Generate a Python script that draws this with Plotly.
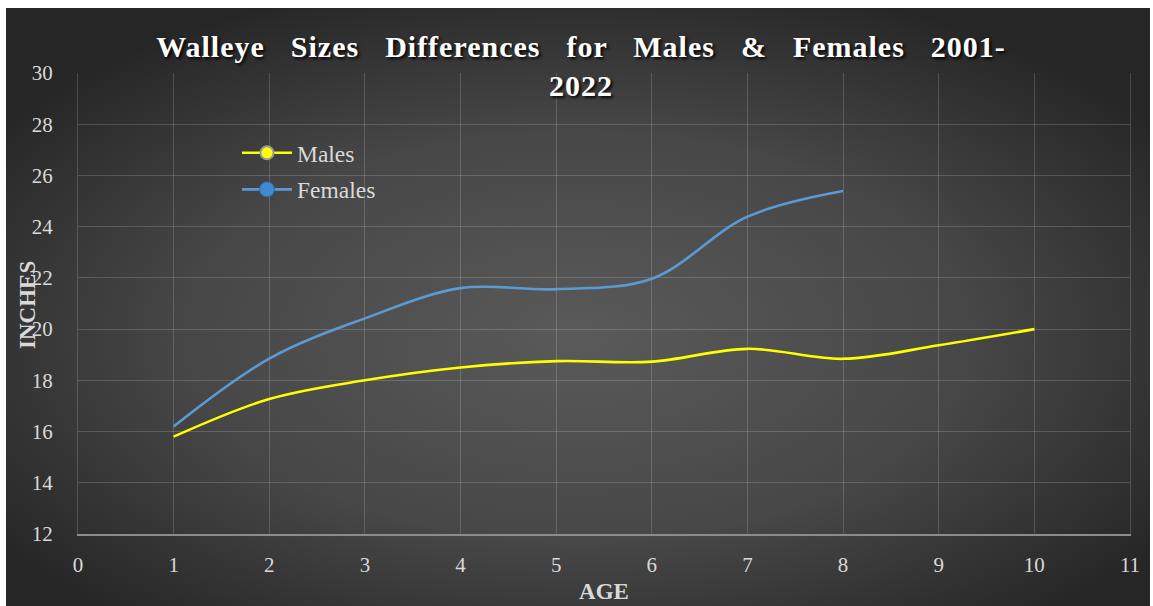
import base64
import plotly.graph_objects as go

# ---- data ----
ages_males = [1, 2, 3, 4, 5, 6, 7, 8, 9, 10]
males = [15.8, 17.27, 18.0, 18.5, 18.75, 18.73, 19.23, 18.84, 19.37, 20.0]
ages_females = [1, 2, 3, 4, 5, 6, 7, 8]
females = [16.2, 18.85, 20.42, 21.6, 21.56, 21.97, 24.39, 25.39]

x_ticks = list(range(0, 12))
y_ticks = list(range(12, 31, 2))

W, H = 1153, 606
L, R, T, B = 78, 1130, 73, 534  # plot area in pixels

SERIF = "Liberation Serif, Times New Roman, serif"
TXT = "#d9d9d9"
GRID = "rgba(255,255,255,0.17)"

fig = go.Figure()

fig.add_trace(go.Scatter(x=ages_males, y=males, mode="lines", name="Males",
                         line=dict(color="#ffff00", width=2.6, shape="spline", smoothing=1.0),
                         showlegend=False))
fig.add_trace(go.Scatter(x=ages_females, y=females, mode="lines", name="Females",
                         line=dict(color="#5b9bd5", width=2.6, shape="spline", smoothing=1.0),
                         showlegend=False))
# legend entries (with markers, as in the original)
fig.add_trace(go.Scatter(x=[None], y=[None], mode="lines+markers", name="Males",
                         legendgroup="m",
                         line=dict(color="#ffff00", width=2.6),
                         marker=dict(color="#ffff00", size=13, line=dict(color="#9a9a9a", width=2))))
fig.add_trace(go.Scatter(x=[None], y=[None], mode="lines+markers", name="Females",
                         legendgroup="f",
                         line=dict(color="#5b9bd5", width=2.6),
                         marker=dict(color="#3f8ad0", size=15, line=dict(color="#2e6aa6", width=1))))

# radial gradient background as an inline SVG image
svg = ('<svg xmlns="http://www.w3.org/2000/svg" width="1144" height="598" viewBox="0 0 1144 598" '
       'preserveAspectRatio="none">'
       '<defs><radialGradient id="g" cx="0.5" cy="0.55" r="0.62">'
       '<stop offset="0" stop-color="#5a5a5a"/>'
       '<stop offset="0.55" stop-color="#474747"/>'
       '<stop offset="1" stop-color="#262626"/>'
       '</radialGradient></defs>'
       '<rect width="1144" height="598" fill="url(#g)"/></svg>')
src = "data:image/svg+xml;base64," + base64.b64encode(svg.encode()).decode()

pw, ph = R - L, B - T
bx0, by0, bx1, by1 = 6, 8, 1150, 606
fig.add_layout_image(dict(source=src, xref="paper", yref="paper",
                          x=(bx0 - L) / pw, y=(B - by0) / ph,
                          sizex=(bx1 - bx0) / pw, sizey=(by1 - by0) / ph,
                          xanchor="left", yanchor="top", sizing="stretch", layer="below"))

fig.add_annotation(text="<b>INCHES</b>", xref="paper", yref="paper",
                   x=(27 - L) / pw, y=(B - 305) / ph, xanchor="center", yanchor="middle",
                   textangle=-90, showarrow=False,
                   font=dict(family=SERIF, size=23, color=TXT))

fig.update_layout(
    width=W, height=H,
    margin=dict(l=L, r=W - R, t=T, b=H - B, pad=0, autoexpand=False),
    paper_bgcolor="white",
    plot_bgcolor="rgba(0,0,0,0)",
    title=dict(text="Walleye Sizes Differences for Males & Females 2001-<br>2022",
               x=581 / W, xanchor="center", xref="container",
               y=1 - 57 / H, yanchor="top", yref="container",
               font=dict(family=SERIF, size=30, color="white", weight="bold",
                         shadow="2px 2px 3px rgba(0,0,0,0.9)")),
    xaxis=dict(range=[0, 11], tickvals=x_ticks, showgrid=True, gridcolor=GRID, gridwidth=1.3,
               zeroline=False, showline=True, linecolor="#8c8c8c", linewidth=2,
               ticks="outside", ticklen=11, tickcolor="rgba(0,0,0,0)", automargin=False,
               tickfont=dict(family=SERIF, size=21, color=TXT),
               title=dict(text="AGE", standoff=7,
                          font=dict(family=SERIF, size=23, color=TXT, weight="bold"))),
    yaxis=dict(range=[12, 30], tickvals=y_ticks, showgrid=True, gridcolor=GRID, gridwidth=1.3,
               zeroline=False, showline=True, linecolor=GRID, linewidth=1.3, mirror=True,
               ticks="outside", ticklen=20, tickcolor="rgba(0,0,0,0)", automargin=False,
               tickfont=dict(family=SERIF, size=21, color=TXT)),
    legend=dict(x=(237 - L) / pw, y=(B - 131) / ph, xanchor="left", yanchor="top",
                bgcolor="rgba(0,0,0,0)", font=dict(family=SERIF, size=23.5, color=TXT),
                itemwidth=50, tracegroupgap=3, traceorder="grouped"),
    showlegend=True,
)

post = """
document.body.style.margin = '0';
var gd = document.getElementById('{plot_id}');
function fixTitle() {
  gd.querySelectorAll('.gtitle').forEach(function (t) {
    t.style.letterSpacing = '1px';
    t.style.wordSpacing = '17.5px';
  });
}
fixTitle();
if (gd.on) { gd.on('plotly_afterplot', fixTitle); }
"""

fig.write_html("out.html", post_script=post, config={"displayModeBar": False})
